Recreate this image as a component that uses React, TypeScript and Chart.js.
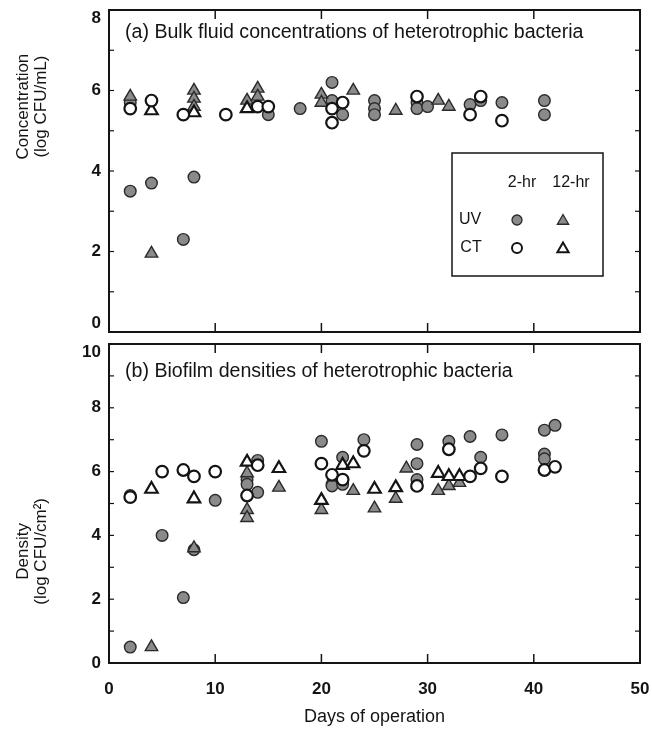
import React, { useEffect, useRef } from 'react';
import { Chart, registerables } from 'chart.js';

Chart.register(...registerables);

const FONT = '"Liberation Sans", Arial, Helvetica, sans-serif';
const INK = '#141414';
const GRAY = '#8a8a8a';

// ---------- (a) Bulk fluid concentrations (log CFU/mL) ----------
const bulkUV2Days = [2, 2, 4, 7, 8, 15, 18, 21, 21, 22, 25, 25, 25, 29, 29, 30, 34, 35, 37, 41, 41];
const bulkUV2Vals = [5.7, 3.5, 3.7, 2.3, 3.85, 5.4, 5.55, 6.2, 5.75, 5.4, 5.75, 5.55, 5.4, 5.7, 5.55, 5.6, 5.65, 5.75, 5.7, 5.75, 5.4];
const bulkUV12Days = [2, 4, 8, 8, 8, 13, 14, 14, 20, 20, 23, 27, 31, 32];
const bulkUV12Vals = [5.85, 1.95, 6.0, 5.8, 5.6, 5.75, 6.05, 5.85, 5.9, 5.7, 6.0, 5.5, 5.75, 5.6];
const bulkCT2Days = [2, 4, 7, 11, 14, 15, 21, 21, 22, 29, 34, 35, 37];
const bulkCT2Vals = [5.55, 5.75, 5.4, 5.4, 5.6, 5.6, 5.55, 5.2, 5.7, 5.85, 5.4, 5.85, 5.25];
const bulkCT12Days = [4, 8, 13];
const bulkCT12Vals = [5.5, 5.45, 5.55];

// ---------- (b) Biofilm densities (log CFU/cm2) ----------
const bioUV2Days = [2, 2, 5, 7, 8, 10, 13, 13, 14, 14, 20, 21, 21, 22, 22, 24, 29, 29, 29, 32, 34, 35, 37, 41, 41, 41, 42];
const bioUV2Vals = [5.25, 0.5, 4.0, 2.05, 3.55, 5.1, 5.75, 5.6, 6.35, 5.35, 6.95, 5.6, 5.55, 6.45, 5.6, 7.0, 6.85, 6.25, 5.75, 6.95, 7.1, 6.45, 7.15, 7.3, 6.55, 6.4, 7.45];
const bioUV12Days = [4, 8, 13, 13, 13, 16, 20, 23, 25, 27, 28, 31, 32, 33];
const bioUV12Vals = [0.5, 3.6, 5.95, 4.8, 4.55, 5.5, 4.8, 5.4, 4.85, 5.15, 6.1, 5.4, 5.55, 5.65];
const bioCT2Days = [2, 5, 7, 8, 10, 13, 14, 20, 21, 22, 24, 29, 32, 34, 35, 37, 41, 42];
const bioCT2Vals = [5.2, 6.0, 6.05, 5.85, 6.0, 5.25, 6.2, 6.25, 5.9, 5.75, 6.65, 5.55, 6.7, 5.85, 6.1, 5.85, 6.05, 6.15];
const bioCT12Days = [4, 8, 13, 16, 20, 22, 23, 25, 27, 31, 32, 33];
const bioCT12Vals = [5.45, 5.15, 6.3, 6.1, 5.1, 6.2, 6.25, 5.45, 5.5, 5.95, 5.85, 5.85];

const xTickValues = [0, 10, 20, 30, 40, 50];
const xMajorMarks = [10, 20, 30, 40];

const pts = (xs: number[], ys: number[]) => xs.map((x, i) => ({ x, y: ys[i] }));

const circleR = 5.8;
const triR = 7.2;

function makeDatasets(uv2x, uv2y, uv12x, uv12y, ct2x, ct2y, ct12x, ct12y) {
  return [
    {
      label: 'CT 2-hr', data: pts(ct2x, ct2y), pointStyle: 'circle', pointRadius: circleR,
      pointBackgroundColor: '#ffffff', pointBorderColor: INK, pointBorderWidth: 2.2, showLine: false,
    },
    {
      label: 'CT 12-hr', data: pts(ct12x, ct12y), pointStyle: 'triangle', pointRadius: triR,
      pointBackgroundColor: '#ffffff', pointBorderColor: INK, pointBorderWidth: 2.2, showLine: false,
    },
    {
      label: 'UV 12-hr', data: pts(uv12x, uv12y), pointStyle: 'triangle', pointRadius: triR,
      pointBackgroundColor: GRAY, pointBorderColor: '#2a2a2a', pointBorderWidth: 1.4, showLine: false,
    },
    {
      label: 'UV 2-hr', data: pts(uv2x, uv2y), pointStyle: 'circle', pointRadius: circleR,
      pointBackgroundColor: GRAY, pointBorderColor: '#2a2a2a', pointBorderWidth: 1.4, showLine: false,
    },
  ];
}

function triPath(ctx: CanvasRenderingContext2D, x: number, y: number, r: number) {
  let rad = 0;
  ctx.beginPath();
  ctx.moveTo(x + Math.sin(rad) * r, y - Math.cos(rad) * r);
  rad += (2 * Math.PI) / 3;
  ctx.lineTo(x + Math.sin(rad) * r, y - Math.cos(rad) * r);
  rad += (2 * Math.PI) / 3;
  ctx.lineTo(x + Math.sin(rad) * r, y - Math.cos(rad) * r);
  ctx.closePath();
}

const framePlugin = {
  id: 'frame',
  beforeDatasetsDraw(chart: any, _args: any, opts: any) {
    const { ctx, chartArea, scales } = chart;
    const { left, right, top, bottom } = chartArea;
    const line = (x1: number, y1: number, x2: number, y2: number) => {
      ctx.beginPath(); ctx.moveTo(x1, y1); ctx.lineTo(x2, y2); ctx.stroke();
    };
    ctx.save();
    ctx.strokeStyle = INK;
    ctx.lineWidth = 2;
    ctx.strokeRect(left, top, right - left, bottom - top);
    ctx.lineWidth = 1.5;
    const xs = scales.x;
    for (const v of xMajorMarks) {
      const px = xs.getPixelForValue(v);
      line(px, top, px, top + 9);
      line(px, bottom, px, bottom - 9);
    }
    const ys = scales.y;
    ctx.lineWidth = 1.2;
    for (let v = ys.min + 1; v < ys.max; v += 1) {
      const py = ys.getPixelForValue(v);
      line(left, py, left + 5, py);
      line(right, py, right - 5, py);
    }
    // panel label
    ctx.fillStyle = INK;
    ctx.font = `19.6px ${FONT}`;
    ctx.textBaseline = 'middle';
    ctx.textAlign = 'left';
    ctx.fillText(opts.label, left + 16, top + opts.labelDy);
    // y-axis title (two lines, rotated)
    const cy = ys.getPixelForValue(opts.yTitleAt);
    ctx.font = `17px ${FONT}`;
    ctx.textAlign = 'center';
    opts.yTitle.forEach((t: string, i: number) => {
      ctx.save();
      ctx.translate(23 + i * 18, cy);
      ctx.rotate(-Math.PI / 2);
      ctx.fillText(t, 0, 0);
      ctx.restore();
    });
    // legend
    if (opts.legend) {
      const L = right - 188;
      const T = top + 143;
      ctx.lineWidth = 1.5;
      ctx.strokeRect(L, T, 151, 123);
      ctx.font = `16px ${FONT}`;
      ctx.textAlign = 'center';
      ctx.fillText('2-hr', L + 70, T + 30);
      ctx.fillText('12-hr', L + 119, T + 30);
      ctx.fillText('UV', L + 18, T + 67);
      ctx.fillText('CT', L + 19, T + 95);
      // markers
      ctx.beginPath(); ctx.arc(L + 65, T + 67, 5, 0, Math.PI * 2);
      ctx.fillStyle = GRAY; ctx.fill(); ctx.strokeStyle = '#2a2a2a'; ctx.lineWidth = 1.3; ctx.stroke();
      triPath(ctx, L + 111, T + 68, 6.5); ctx.fill(); ctx.stroke();
      ctx.beginPath(); ctx.arc(L + 65, T + 95, 5, 0, Math.PI * 2);
      ctx.fillStyle = '#fff'; ctx.fill(); ctx.strokeStyle = INK; ctx.lineWidth = 2; ctx.stroke();
      triPath(ctx, L + 111, T + 96, 6.5); ctx.fill(); ctx.stroke();
    }
    ctx.restore();
  },
};

// y tick label: nudge the end labels inward (top one down, bottom one up) as in the figure
function yLabel(nudgeBottom: boolean) {
  return (value: number, index: number, ticks: any[]) => {
    const s = String(value);
    if (index === ticks.length - 1) return ['', s];
    if (index === 0 && nudgeBottom) return [s, ''];
    return s;
  };
}

function baseOptions(yMax: number, showX: boolean, padTop: number, padBottom: number, frame: any) {
  return {
    animation: false,
    responsive: false,
    maintainAspectRatio: false,
    layout: { padding: { top: padTop, right: 12, bottom: padBottom, left: 0 } },
    plugins: { legend: { display: false }, tooltip: { enabled: false }, frame },
    scales: {
      x: {
        type: 'linear',
        min: 0,
        max: 50,
        display: showX,
        afterBuildTicks: (s: any) => { s.ticks = xTickValues.map((v) => ({ value: v })); },
        ticks: { padding: 16, color: INK, font: { family: FONT, size: 17, weight: 'bold' } },
        grid: { display: false, drawTicks: false },
        border: { display: false },
        title: {
          display: showX,
          text: 'Days of operation',
          color: INK,
          font: { family: FONT, size: 18 },
          padding: { top: 4, bottom: 14 },
        },
        afterFit: (s: any) => {
          if (showX) s.height = 79;
          s.paddingLeft = 0;
          s.paddingRight = 0;
        },
      },
      y: {
        type: 'linear',
        min: 0,
        max: yMax,
        ticks: {
          stepSize: 2,
          padding: 8,
          color: INK,
          font: { family: FONT, size: 17, weight: 'bold', lineHeight: 1.0 },
          callback: yLabel(!showX),
        },
        grid: { display: false, drawTicks: false },
        border: { display: false },
        afterFit: (s: any) => {
          s.width = 109;
          s.paddingTop = 0;
          s.paddingBottom = 0;
        },
      },
    },
  };
}

export default function App() {
  const topRef = useRef<HTMLCanvasElement>(null);
  const botRef = useRef<HTMLCanvasElement>(null);

  useEffect(() => {
    const c1 = new Chart(topRef.current as HTMLCanvasElement, {
      type: 'scatter',
      data: {
        datasets: makeDatasets(bulkUV2Days, bulkUV2Vals, bulkUV12Days, bulkUV12Vals, bulkCT2Days, bulkCT2Vals, bulkCT12Days, bulkCT12Vals) as any,
      },
      options: baseOptions(8, false, 10, 10, {
        label: '(a) Bulk fluid concentrations of heterotrophic bacteria',
        labelDy: 23,
        yTitle: ['Concentration', '(log CFU/mL)'],
        yTitleAt: 5.6,
        legend: true,
      }) as any,
      plugins: [framePlugin as any],
    });
    const c2 = new Chart(botRef.current as HTMLCanvasElement, {
      type: 'scatter',
      data: {
        datasets: makeDatasets(bioUV2Days, bioUV2Vals, bioUV12Days, bioUV12Vals, bioCT2Days, bioCT2Vals, bioCT12Days, bioCT12Vals) as any,
      },
      options: baseOptions(10, true, 24, 0, {
        label: '(b) Biofilm densities of heterotrophic bacteria',
        labelDy: 28,
        yTitle: ['Density', '(log CFU/cm\u00B2)'],
        yTitleAt: 3.5,
        legend: false,
      }) as any,
      plugins: [framePlugin as any],
    });
    return () => { c1.destroy(); c2.destroy(); };
  }, []);

  return (
    <div style={{ position: 'absolute', left: 0, top: 0, width: 652, height: 742, background: '#fff' }}>
      <canvas ref={topRef} width={652} height={342} style={{ position: 'absolute', left: 0, top: 0 }} />
      <canvas ref={botRef} width={652} height={422} style={{ position: 'absolute', left: 0, top: 320 }} />
    </div>
  );
}
